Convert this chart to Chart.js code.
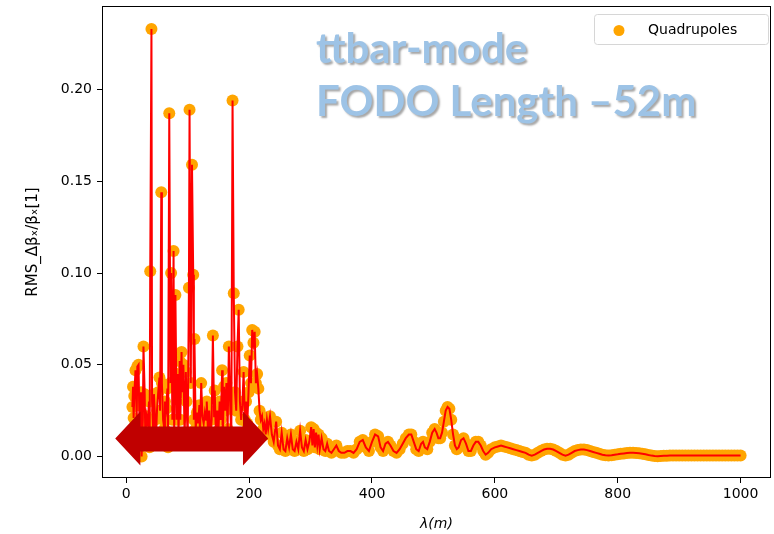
<!DOCTYPE html>
<html lang="en">
<head>
    <meta charset="UTF-8">
    <title>RMS beta beat vs wavelength</title>
    <script src="https://cdn.jsdelivr.net/npm/chart.js"></script>
    <style>
        html, body { margin: 0; padding: 0; background: #fff; }
        .chart-box { width: 774px; height: 534px; }
    </style>
</head>
<body>
    <div class="chart-box">
        <canvas id="betaChart"></canvas>
    </div>

    <script>
        // wavelength of the error pattern (m)
        const lambda = [
            10, 11, 12, 13, 15, 17, 18, 20, 21, 22, 24, 25, 27, 28, 30, 31, 33, 35, 37, 38,
            39, 41, 42, 44, 45, 47, 48, 50, 52, 54, 55, 57, 58, 60, 62, 63, 65, 67, 68, 70,
            72, 73, 75, 77, 78, 80, 82, 84, 85, 87, 88, 90, 91, 93, 95, 97, 98, 100, 102, 103,
            105, 107, 109, 110, 111, 113, 115, 117, 119, 120, 122, 124, 126, 128, 130, 131, 133, 135, 137, 139,
            141, 143, 144, 146, 148, 150, 152, 154, 156, 157, 159, 161, 163, 165, 167, 169, 171, 173, 175, 177,
            179, 181, 183, 185, 187, 189, 191, 193, 195, 197, 199, 201, 203, 205, 207, 209, 211, 213, 215, 217,
            219, 221, 223, 225, 227, 229, 231, 234, 237, 240, 244, 247, 250, 253, 256, 259, 262, 265, 268, 271,
            274, 277, 280, 283, 286, 289, 292, 295, 298, 301, 303, 305, 307, 309, 311, 313, 315, 318, 321, 324,
            327, 330, 334, 338, 342, 346, 350, 355, 360, 365, 370, 375, 380, 385, 390, 395, 400, 405, 410, 414,
            418, 422, 426, 430, 435, 440, 445, 450, 455, 460, 464, 468, 472, 476, 480, 483, 486, 490, 494, 498,
            502, 505, 508, 511, 514, 517, 520, 523, 526, 529, 532, 535, 538, 541, 545, 549, 553, 557, 561, 565,
            569, 573, 577, 581, 585, 589, 594,
            600, 605, 610, 615, 620, 625, 630, 635, 640, 645, 650, 655, 660, 665, 670, 675, 680, 685, 690, 695,
            700, 705, 710, 715, 720, 725, 730, 735, 740, 745, 750, 755, 760, 765, 770, 775, 780, 785, 790, 795,
            800, 805, 810, 815, 820, 825, 830, 835, 840, 845, 850, 855, 860, 865, 870, 875, 880, 885, 890, 895,
            900, 905, 910, 915, 920, 925, 930, 935, 940, 945, 950, 955, 960, 965, 970, 975, 980, 985, 990, 995,
            1000
        ];

        // RMS delta beta_x / beta_x at the quadrupoles
        const rmsBeat = [
            0.027, 0.038, 0.021, 0.033, 0.047, 0.020, 0.049, 0.050, 0.028, 0.012, 0.035, 0.000, 0.020, 0.060, 0.034, 0.010, 0.022, 0.018, 0.030, 0.005,
            0.101, 0.233, 0.030, 0.012, 0.034, 0.020, 0.008, 0.025, 0.035, 0.043, 0.025, 0.144, 0.040, 0.020, 0.015, 0.030, 0.026, 0.037, 0.005, 0.187,
            0.040, 0.100, 0.020, 0.112, 0.010, 0.088, 0.020, 0.045, 0.010, 0.052, 0.020, 0.057, 0.035, 0.050, 0.010, 0.046, 0.030, 0.010, 0.092, 0.189,
            0.040, 0.159, 0.099, 0.020, 0.064, 0.015, 0.024, 0.018, 0.028, 0.012, 0.040, 0.022, 0.018, 0.024, 0.020, 0.030, 0.014, 0.025, 0.010, 0.020,
            0.066, 0.022, 0.036, 0.010, 0.025, 0.014, 0.030, 0.020, 0.047, 0.010, 0.038, 0.025, 0.040, 0.015, 0.060, 0.030, 0.010, 0.194, 0.089, 0.035,
            0.025, 0.060, 0.080, 0.030, 0.020, 0.028, 0.046, 0.020, 0.030, 0.018, 0.035, 0.055, 0.040, 0.069, 0.062, 0.068, 0.040, 0.045, 0.037, 0.025,
            0.020, 0.022, 0.015, 0.018, 0.012, 0.020, 0.015, 0.022, 0.012, 0.008, 0.019, 0.006, 0.004, 0.013, 0.004, 0.003, 0.010, 0.005, 0.012, 0.004,
            0.003, 0.008, 0.004, 0.014, 0.005, 0.003, 0.009, 0.004, 0.008, 0.016, 0.006, 0.015, 0.005, 0.013, 0.006, 0.012, 0.004, 0.010, 0.004, 0.003,
            0.007, 0.003, 0.002, 0.004, 0.006, 0.003, 0.002, 0.002, 0.003, 0.003, 0.002, 0.004, 0.008, 0.009, 0.005, 0.003, 0.008, 0.012, 0.011, 0.005,
            0.003, 0.007, 0.008, 0.006, 0.003, 0.002, 0.004, 0.007, 0.010, 0.012, 0.012, 0.008, 0.004, 0.003, 0.007, 0.008, 0.005, 0.004, 0.008, 0.013,
            0.015, 0.013, 0.010, 0.010, 0.013, 0.019, 0.025, 0.027, 0.026, 0.020, 0.012, 0.006, 0.004, 0.005, 0.009, 0.010, 0.007, 0.003, 0.003, 0.006,
            0.008, 0.008, 0.006, 0.003, 0.001, 0.002, 0.004,
            0.0050, 0.0055, 0.0060, 0.0055, 0.0050, 0.0045, 0.0040, 0.0035, 0.0030, 0.0025, 0.0020, 0.0010, 0.0005, 0.0010, 0.0020, 0.0030, 0.0038, 0.0042, 0.0042, 0.0038,
            0.0030, 0.0020, 0.0010, 0.0005, 0.0010, 0.0020, 0.0030, 0.0035, 0.0038, 0.0038, 0.0035, 0.0030, 0.0025, 0.0020, 0.0015, 0.0010, 0.0007, 0.0005, 0.0007, 0.0010,
            0.0012, 0.0015, 0.0017, 0.0019, 0.0020, 0.0020, 0.0019, 0.0018, 0.0015, 0.0012, 0.0008, 0.0005, 0.0003, 0.0002, 0.0003, 0.0004, 0.0004, 0.0005, 0.0005, 0.0005,
            0.0005, 0.0005, 0.0005, 0.0005, 0.0005, 0.0005, 0.0005, 0.0005, 0.0005, 0.0005, 0.0005, 0.0005, 0.0005, 0.0005, 0.0005, 0.0005, 0.0005, 0.0005, 0.0005, 0.0005,
            0.0005
        ];

        const xTicks = [0, 200, 400, 600, 800, 1000];
        const yTicks = [0.00, 0.05, 0.10, 0.15, 0.20];

        const points = lambda.map((l, i) => ({ x: l, y: rmsBeat[i] }));

        const TICK_FONT = { family: 'DejaVu Sans', size: 14 };

        // axes frame, double arrow, title text and legend box
        const decorations = {
            id: 'decorations',
            afterDraw(chart) {
                const { ctx, chartArea: a, scales: { x, y } } = chart;
                ctx.save();

                // arrow spanning the spiky region
                const px = v => x.getPixelForValue(v);
                const py = v => y.getPixelForValue(v);
                const arrow = [
                    [-18, 0.0098], [23, 0.0245], [23, 0.0163], [190, 0.0163], [190, 0.0245],
                    [231, 0.0098], [190, -0.0049], [190, 0.0027], [23, 0.0027], [23, -0.0049]
                ];
                ctx.beginPath();
                arrow.forEach(([ax, ay], i) => {
                    if (i === 0) ctx.moveTo(px(ax), py(ay));
                    else ctx.lineTo(px(ax), py(ay));
                });
                ctx.closePath();
                ctx.fillStyle = '#C00000';
                ctx.fill();

                // frame
                ctx.strokeStyle = '#000';
                ctx.lineWidth = 1;
                ctx.strokeRect(a.left + 0.5, a.top + 0.5, a.right - a.left - 1, a.bottom - a.top - 1);

                // title text
                ctx.font = 'bold 42px Lato';
                ctx.fillStyle = '#9DC3E6';
                ctx.shadowColor = 'rgba(0,0,0,0.35)';
                ctx.shadowOffsetX = 2;
                ctx.shadowOffsetY = 2;
                ctx.shadowBlur = 2;
                ctx.textAlign = 'left';
                ctx.textBaseline = 'alphabetic';
                ctx.fillText('ttbar-mode', 316, 63);
                ctx.fillText('FODO Length \u201352m', 316, 116);
                ctx.shadowColor = 'transparent';

                // legend
                const lx = 594.5, ly = 14.5, lw = 174, lh = 30;
                ctx.beginPath();
                ctx.roundRect(lx, ly, lw, lh, 3);
                ctx.fillStyle = 'rgba(255,255,255,0.8)';
                ctx.fill();
                ctx.strokeStyle = '#d6d6d6';
                ctx.stroke();
                ctx.beginPath();
                ctx.arc(619, 30.5, 5.5, 0, Math.PI * 2);
                ctx.fillStyle = '#FFA500';
                ctx.fill();
                ctx.font = '14px "DejaVu Sans"';
                ctx.fillStyle = '#000';
                ctx.textBaseline = 'middle';
                ctx.fillText('Quadrupoles', 648, 30);

                ctx.restore();
            }
        };

        new Chart(document.getElementById('betaChart'), {
            type: 'line',
            data: {
                datasets: [{
                    label: 'RMS',
                    data: points,
                    borderColor: '#FF0000',
                    borderWidth: 2,
                    pointRadius: 0,
                    tension: 0,
                    order: 1
                }, {
                    label: 'Quadrupoles',
                    data: points,
                    showLine: false,
                    pointRadius: 6,
                    pointHoverRadius: 6,
                    pointBorderWidth: 0,
                    pointBackgroundColor: '#FFA500',
                    backgroundColor: '#FFA500',
                    order: 2
                }]
            },
            options: {
                responsive: true,
                maintainAspectRatio: false,
                animation: false,
                layout: { autoPadding: false, padding: { top: 6, right: 3, left: 0, bottom: 0 } },
                plugins: {
                    legend: { display: false },
                    tooltip: { enabled: false }
                },
                scales: {
                    x: {
                        type: 'linear',
                        min: -39.5,
                        max: 1049.5,
                        afterBuildTicks: axis => { axis.ticks = xTicks.map(v => ({ value: v })); },
                        afterFit: axis => {
                            axis.height = 56;
                            axis.paddingLeft = 0;
                            axis.paddingRight = 0;
                        },
                        grid: { display: true, drawOnChartArea: false, tickLength: 5, color: '#000' },
                        border: { display: false },
                        ticks: { color: '#000', font: TICK_FONT, padding: 3, maxRotation: 0, callback: v => String(v) },
                        title: {
                            display: true,
                            text: '\u03bb(m)',
                            color: '#000',
                            font: { family: 'DejaVu Sans', size: 14, style: 'italic' },
                            padding: { top: 2, bottom: 1 }
                        }
                    },
                    y: {
                        type: 'linear',
                        min: -0.0117,
                        max: 0.2455,
                        afterBuildTicks: axis => { axis.ticks = yTicks.map(v => ({ value: v })); },
                        afterFit: axis => {
                            axis.width = 102;
                            axis.paddingTop = 0;
                            axis.paddingBottom = 0;
                        },
                        grid: { display: true, drawOnChartArea: false, tickLength: 5, color: '#000' },
                        border: { display: false },
                        ticks: {
                            color: '#000',
                            font: TICK_FONT,
                            padding: 5,
                            callback: v => v.toFixed(2)
                        },
                        title: {
                            display: true,
                            text: 'RMS_\u0394\u03b2\u2093/\u03b2\u2093[1]',
                            color: '#000',
                            font: { family: 'DejaVu Sans', size: 15 },
                            padding: { top: 24, bottom: 0 }
                        }
                    }
                }
            },
            plugins: [decorations]
        });
    </script>
</body>
</html>
